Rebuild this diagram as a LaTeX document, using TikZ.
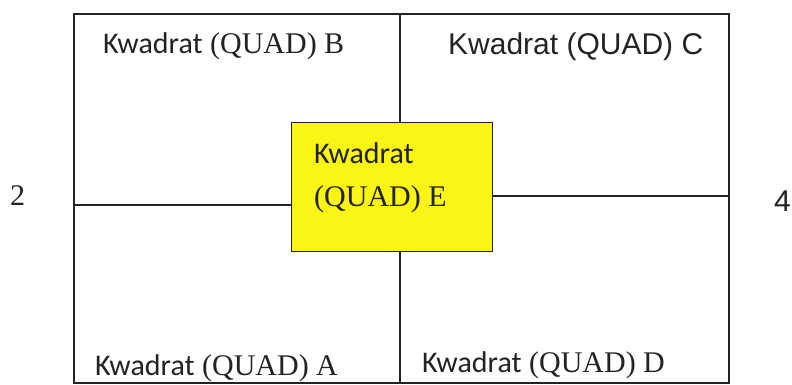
\documentclass[tikz,border=0pt]{standalone}
\usepackage{fontspec}
\setmainfont{Liberation Serif}
\newfontfamily\calib{Carlito}
\newfontfamily\arialf{Liberation Sans}
\definecolor{quadyellow}{RGB}{250,245,20}
\definecolor{ink}{RGB}{35,35,35}
\tikzset{
  frame/.style={draw=ink,line width=1.6pt},
  quadbox/.style={draw=ink,line width=1.4pt,fill=quadyellow,
    minimum width=201pt,minimum height=129pt,inner sep=0pt},
  quadlabel/.style={anchor=base west,inner sep=0pt,text=ink,
    font=\fontsize{30}{43}\selectfont}
}

\begin{document}
\begin{tikzpicture}[x=1pt,y=-1pt]
\useasboundingbox (0,0) rectangle (792,385);
% frame and its ends
\coordinate(nw) at (74,14);
\coordinate(se) at (729,383);
\coordinate(top) at (400,14);
\coordinate(bottom) at (400,383);
\coordinate(left) at (74,205);
\coordinate(right) at (729,196);
\draw[frame] (nw) rectangle (se);

\node(E) at (392,187)[quadbox] {};

\draw[frame] (top) -- (top |- E.north);
\draw[frame] (bottom) -- (bottom |- E.south);
\draw[frame] (left) -- (left -| E.west);
\draw[frame] (right) -- (right -| E.east);

\node(B) at (103,54)[quadlabel]    {{\calib Kwadrat} (QUAD) B};
\node(C) at (448,55)[quadlabel]    {\arialf Kwadrat (QUAD) C};
\node(A) at (95,375)[quadlabel]    {{\calib Kwadrat} (QUAD) A};
\node(D) at (422,372)[quadlabel]   {{\calib Kwadrat} (QUAD) D};
\node(Etext) at (314,206)[quadlabel,align=left] {{\calib Kwadrat}\\(QUAD) E};
\node(two) at (10,205)[quadlabel]  {2};
\node(four) at (774,211)[quadlabel] {\arialf 4};

\end{tikzpicture}
\end{document}
